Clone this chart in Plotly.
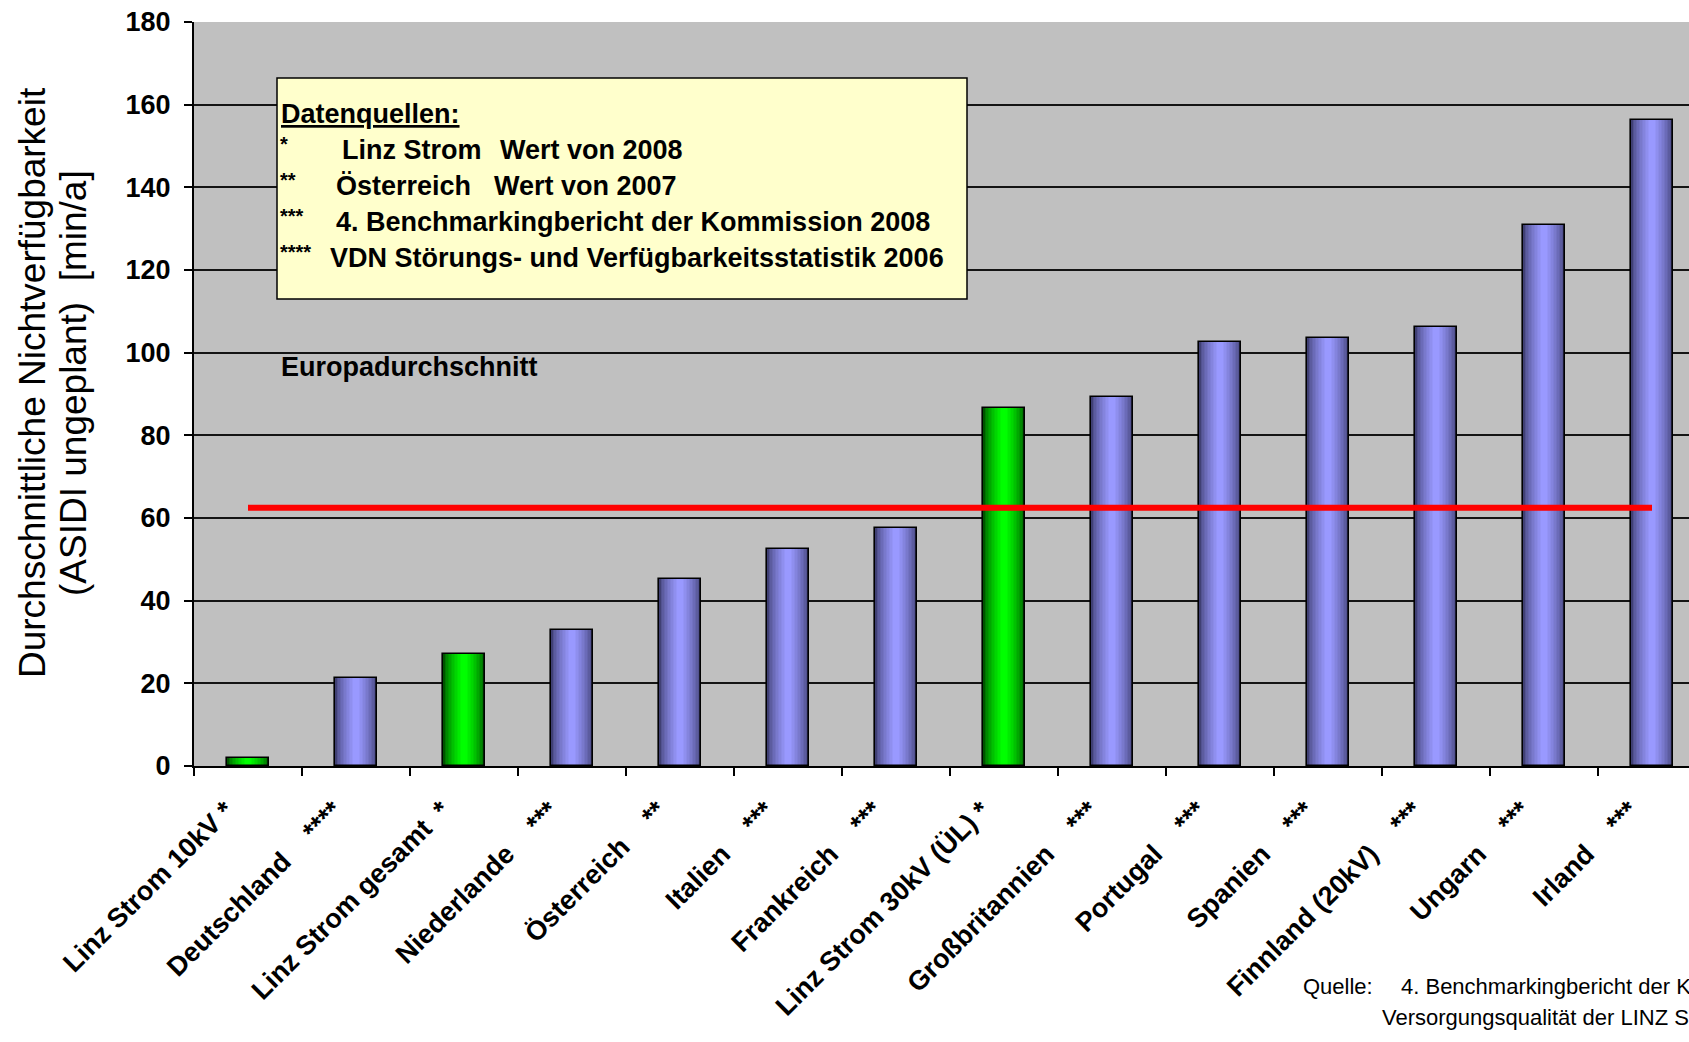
import plotly.graph_objects as go

# ---- data ---------------------------------------------------------------
categories = [
    "Linz Strom 10kV", "Deutschland", "Linz Strom gesamt", "Niederlande",
    "Österreich", "Italien", "Frankreich", "Linz Strom 30kV (ÜL)",
    "Großbritannien", "Portugal", "Spanien", "Finnland (20kV)", "Ungarn", "Irland",
]
source_marks = ["*", "****", "*", "***", "**", "***", "***", "*",
                "***", "***", "***", "***", "***", "***"]
mark_gaps = [1, 4, 2, 4, 4, 4, 4, 1, 4, 4, 4, 4, 4, 4]
asidi_min_per_year = [2.0, 21.4, 27.1, 32.8, 45.3, 52.4, 57.7, 86.6,
                      89.2, 102.5, 103.5, 106.2, 130.8, 156.4]
linz_strom = [True, False, True, False, False, False, False, True,
              False, False, False, False, False, False]
europe_average = 62.5

y_ticks = [0, 20, 40, 60, 80, 100, 120, 140, 160, 180]
tick_labels = [c + "\u00a0" * g + m for c, g, m in zip(categories, mark_gaps, source_marks)]

y_title_lines = ["Durchschnittliche Nichtverfügbarkeit", "(ASIDI ungeplant)\u00a0\u00a0[min/a]"]

legend_title = "Datenquellen:"
legend_marks = ["*", "**", "***", "****"]
legend_lines = [
    ("Linz Strom", "Wert von 2008"),
    ("Österreich", "Wert von 2007"),
    ("4. Benchmarkingbericht der Kommission 2008", None),
    ("VDN Störungs- und Verfügbarkeitsstatistik 2006", None),
]
average_label = "Europadurchschnitt"
source_note = ["Quelle:", "4. Benchmarkingbericht der Kommission 2008",
               "Versorgungsqualität der LINZ STROM GmbH"]

# ---- geometry of the plotting area (pixels) -----------------------------
W, H = 1689, 1042
L, T, R, B = 194, 22, 1689, 766
PW, PH = R - L, B - T
SLOT = 108.0  # pixel width of one category
x_hi = -0.5 + PW / SLOT


def px(x):
    return (x - L) / PW


def py(y):
    return (B - y) / PH


BASE_FONT = "Liberation Sans, Arial, sans-serif"

fig = go.Figure()

# ---- bars with a horizontal shading (layers of shrinking width) ---------
BAR_W = 0.385
blue_edge, blue_mid = (64, 64, 116), (153, 153, 255)
green_edge, green_mid = (0, 84, 0), (0, 255, 0)
N_LAYERS = 14


def mix(a, b, t):
    return "rgb(%d,%d,%d)" % tuple(round(a[i] + (b[i] - a[i]) * t) for i in range(3))


for k in range(N_LAYERS):
    frac = k / (N_LAYERS - 1)
    t = min(1.0, frac ** 0.65 * 1.05)
    colors = [mix(green_edge, green_mid, t) if g else mix(blue_edge, blue_mid, t)
              for g in linz_strom]
    fig.add_trace(go.Bar(
        x=categories, y=asidi_min_per_year,
        width=BAR_W * (1 - k / N_LAYERS),
        marker=dict(color=colors, line=dict(width=0)),
        hoverinfo="skip", showlegend=False,
    ))

# outline
fig.add_trace(go.Bar(
    x=categories, y=asidi_min_per_year, width=BAR_W,
    marker=dict(color="rgba(0,0,0,0)", line=dict(color="black", width=1.6)),
    showlegend=False,
))

# European average line
fig.add_trace(go.Scatter(
    x=[categories[0], categories[-1]], y=[europe_average, europe_average],
    mode="lines", line=dict(color="#ff0000", width=6), showlegend=False,
))

fig.update_layout(
    width=W, height=H,
    margin=dict(l=L, r=W - R, t=T, b=H - B, autoexpand=False),
    paper_bgcolor="white", plot_bgcolor="#c0c0c0",
    barmode="overlay", bargap=0,
    font=dict(family=BASE_FONT, color="black"),
)

fig.update_xaxes(
    type="category", range=[-0.5, x_hi],
    tickmode="array", tickvals=categories, ticktext=tick_labels,
    tickangle=-45, tickfont=dict(family=BASE_FONT, size=27, color="black", weight="bold"),
    ticklabelshift=-22, ticklabelstandoff=16,
    tickson="boundaries", ticks="outside", ticklen=8, tickwidth=1.5, tickcolor="black",
    showline=True, linecolor="black", linewidth=2,
    showgrid=False, zeroline=False,
)
fig.update_yaxes(
    range=[0, 180], tickvals=y_ticks,
    tickfont=dict(family=BASE_FONT, size=27, color="black", weight="bold"),
    ticks="outside", ticklen=8, tickwidth=1.5, tickcolor="black",
    ticklabelstandoff=8,
    showline=True, linecolor="black", linewidth=2,
    showgrid=True, gridcolor="#141414", gridwidth=1.6,
    zeroline=False,
)

# ---- y axis title (two lines) -------------------------------------------
for line_text, cx in zip(y_title_lines, [32, 73]):
    fig.add_annotation(
        xref="paper", yref="paper", x=px(cx), y=py(383),
        text=line_text, textangle=-90, showarrow=False,
        xanchor="center", yanchor="middle",
        font=dict(family=BASE_FONT, size=37, color="black"),
    )

# ---- data source box -----------------------------------------------------
fig.add_shape(
    type="rect", xref="paper", yref="paper",
    x0=px(277), x1=px(967), y0=py(299), y1=py(78),
    fillcolor="#ffffcc", line=dict(color="black", width=1.5), layer="above",
)


def label(x, y, text, size, bold=True):
    fig.add_annotation(
        xref="paper", yref="paper", x=px(x), y=py(y), text=text,
        showarrow=False, xanchor="left", yanchor="middle",
        font=dict(family=BASE_FONT, size=size, color="black",
                  weight="bold" if bold else "normal"),
    )


label(279, 114, "<u>" + legend_title + "</u>", 27)
line_y = [150, 186, 222, 258]
first_x = [340, 334, 334, 328]
second_x = [498, 492, None, None]
for i, (first, second) in enumerate(legend_lines):
    label(278, line_y[i] - 6, legend_marks[i], 20)
    label(first_x[i], line_y[i], first, 27)
    if second:
        label(second_x[i], line_y[i], second, 27)

label(279, 367, average_label, 27)

# ---- source note ----------------------------------------------------------
label(1301, 986, source_note[0], 22, bold=False)
label(1399, 986, source_note[1], 22, bold=False)
label(1380, 1017, source_note[2], 22, bold=False)

fig.write_html("out.html")
